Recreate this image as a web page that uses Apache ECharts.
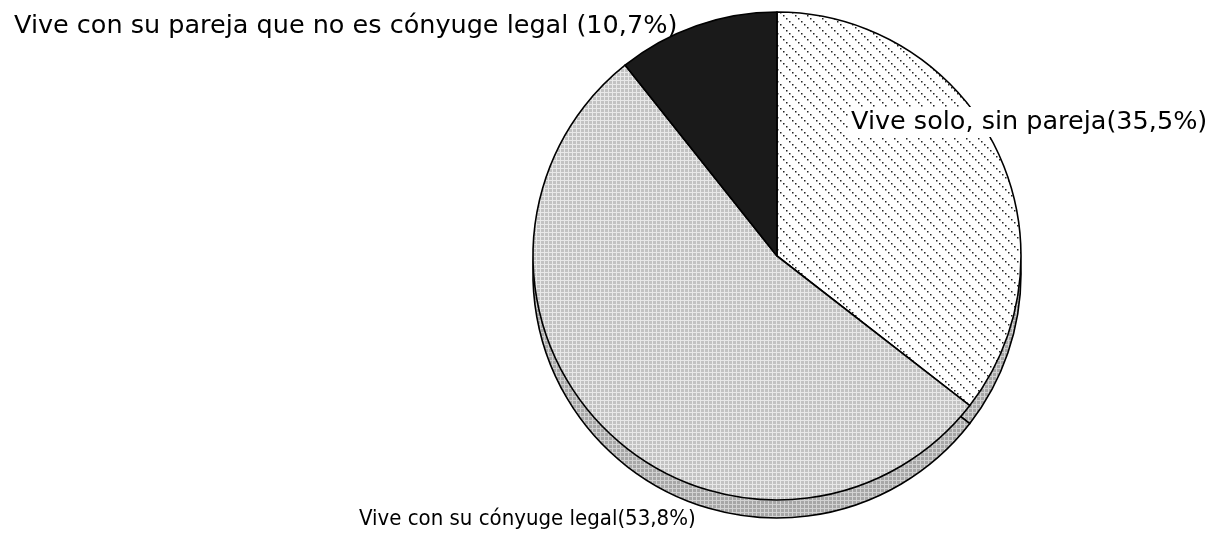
<!DOCTYPE html>
<html>
<head>
<meta charset="utf-8">
<script src="https://cdn.jsdelivr.net/npm/echarts@6/dist/echarts.min.js"></script>
<style>
  html, body { margin: 0; padding: 0; background: #fff; }
  #main { width: 1216px; height: 536px; }
</style>
</head>
<body>
<div id="main"></div>
<script>
// datos (sentido horario desde las 12)
var categories = ['Vive solo, sin pareja', 'Vive con su cónyuge legal', 'Vive con su pareja que no es cónyuge legal'];
var values = [35.5, 53.8, 10.7];
var labelGaps = ['', '', ' '];

// posiciones de las etiquetas (px)
var labelPos = [[848, 122], [356, 519], [11, 26]];
var labelFonts = [
  { fontFamily: 'DejaVu Sans', fontSize: 25.5 },
  { fontFamily: 'DejaVu Sans Condensed', fontSize: 22 },
  { fontFamily: 'DejaVu Sans', fontSize: 25.5 }
];

// tramas
function makeTile(w, h, draw) {
  var c = document.createElement('canvas');
  c.width = w; c.height = h;
  draw(c.getContext('2d'));
  return { image: c, repeat: 'repeat' };
}
var hatch = makeTile(12, 12, function (ctx) {
  ctx.fillStyle = '#fff';
  ctx.fillRect(0, 0, 12, 12);
  ctx.fillStyle = '#222';
  [0, 3, 6, 9].forEach(function (d) { ctx.fillRect(d, d, 1.5, 1.5); });
});
function plaid(base, light) {
  return makeTile(4, 4, function (ctx) {
    ctx.fillStyle = base;
    ctx.fillRect(0, 0, 4, 4);
    ctx.fillStyle = light;
    ctx.fillRect(0, 0, 4, 1);
    ctx.fillRect(0, 0, 1, 4);
  });
}
var stipple = plaid('#c2c2c2', '#e8e8e8');
var stippleDark = plaid('#a6a6a6', '#d2d2d2');
var fills = [hatch, stipple, '#1a1a1a'];

var myChart = echarts.init(document.getElementById('main'));

var topData = categories.map(function (name, i) {
  return {
    name: name,
    value: values[i],
    itemStyle: { color: fills[i] },
    label: labelFonts[i]
  };
});
var sideData = categories.map(function (name, i) {
  return { name: name, value: values[i], itemStyle: { color: stippleDark } };
});

var option = {
  backgroundColor: '#fff',
  animation: false,
  series: [
    {
      // lado (grosor) del pastel
      type: 'pie',
      z: 1,
      silent: true,
      center: [777, 274],
      radius: 244,
      startAngle: 90,
      clockwise: true,
      label: { show: false },
      labelLine: { show: false },
      itemStyle: { borderColor: '#000', borderWidth: 1.6 },
      emphasis: { disabled: true },
      data: sideData
    },
    {
      type: 'pie',
      z: 2,
      silent: true,
      center: [777, 256],
      radius: 244,
      startAngle: 90,
      clockwise: true,
      itemStyle: { borderColor: '#000', borderWidth: 1.6 },
      emphasis: { disabled: true },
      labelLine: { show: false },
      label: {
        show: true,
        position: 'outside',
        overflow: 'none',
        color: '#000',
        backgroundColor: '#fff',
        padding: [2, 3],
        formatter: function (p) {
          return p.name + labelGaps[p.dataIndex] + '(' + p.value.toFixed(1).replace('.', ',') + '%)';
        }
      },
      labelLayout: function (params) {
        var pos = labelPos[params.dataIndex];
        return { x: pos[0], y: pos[1], align: 'left', verticalAlign: 'middle', hideOverlap: false };
      },
      data: topData
    }
  ]
};

myChart.setOption(option);
</script>
</body>
</html>
